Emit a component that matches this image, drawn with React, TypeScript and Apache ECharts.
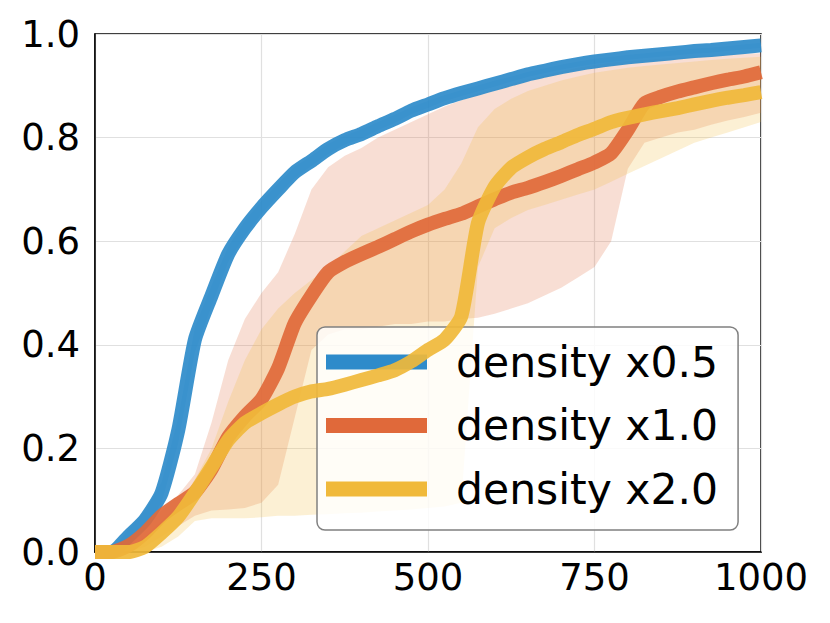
import React, { useEffect, useRef } from "react";
import * as echarts from "echarts";

const steps = [0,25,50,75,100,125,150,175,200,225,250,275,300,325,350,375,400,425,450,475,500,525,550,575,600,625,650,675,700,725,750,775,800,825,850,875,900,925,950,975,1000];

const blueMean = [0,0,0.03,0.062,0.114,0.235,0.41,0.495,0.575,0.625,0.665,0.7,0.733,0.755,0.778,0.795,0.807,0.822,0.836,0.852,0.864,0.876,0.886,0.895,0.904,0.913,0.922,0.929,0.936,0.942,0.947,0.951,0.955,0.958,0.961,0.964,0.967,0.969,0.972,0.975,0.978];
const blueLo = [0,0,0.015,0.045,0.095,0.21,0.385,0.475,0.56,0.61,0.652,0.688,0.722,0.745,0.768,0.786,0.798,0.814,0.828,0.845,0.857,0.87,0.88,0.889,0.898,0.908,0.917,0.924,0.931,0.937,0.942,0.946,0.95,0.953,0.956,0.959,0.962,0.964,0.967,0.97,0.973];
const blueHi = [0,0,0.045,0.08,0.135,0.26,0.435,0.515,0.59,0.64,0.678,0.712,0.744,0.765,0.788,0.804,0.816,0.83,0.844,0.859,0.871,0.882,0.892,0.901,0.91,0.918,0.927,0.934,0.941,0.947,0.952,0.956,0.96,0.963,0.966,0.969,0.972,0.974,0.977,0.98,0.983];

const orangeMean = [0,0,0.012,0.037,0.07,0.093,0.115,0.16,0.222,0.262,0.295,0.355,0.442,0.495,0.54,0.56,0.575,0.589,0.604,0.619,0.632,0.643,0.653,0.667,0.681,0.694,0.703,0.714,0.726,0.739,0.752,0.77,0.815,0.866,0.879,0.889,0.897,0.905,0.912,0.918,0.926];
const orangeLo = [0,0,0,0.01,0.03,0.05,0.07,0.08,0.082,0.085,0.095,0.13,0.26,0.39,0.42,0.43,0.43,0.435,0.44,0.44,0.445,0.445,0.45,0.452,0.46,0.47,0.48,0.495,0.51,0.53,0.55,0.6,0.74,0.79,0.8,0.81,0.815,0.825,0.833,0.84,0.848];
const orangeHi = [0,0,0.02,0.05,0.08,0.11,0.15,0.25,0.37,0.45,0.5,0.54,0.614,0.7,0.743,0.765,0.78,0.8,0.815,0.83,0.845,0.86,0.872,0.885,0.893,0.903,0.912,0.92,0.928,0.935,0.94,0.945,0.948,0.95,0.952,0.954,0.956,0.958,0.96,0.962,0.963];

const yellowMean = [0,0,0,0.01,0.037,0.068,0.114,0.164,0.216,0.249,0.268,0.285,0.3,0.31,0.315,0.323,0.332,0.341,0.351,0.368,0.39,0.41,0.455,0.635,0.705,0.742,0.762,0.778,0.791,0.805,0.817,0.83,0.838,0.845,0.851,0.857,0.864,0.871,0.877,0.882,0.888];
const yellowLo = [0,0,0,0,0.01,0.03,0.06,0.065,0.065,0.065,0.067,0.07,0.07,0.072,0.073,0.075,0.076,0.078,0.08,0.082,0.085,0.088,0.095,0.55,0.625,0.645,0.66,0.67,0.68,0.69,0.7,0.715,0.73,0.745,0.76,0.775,0.79,0.8,0.81,0.82,0.83];
const yellowHi = [0,0,0.005,0.03,0.06,0.09,0.14,0.2,0.29,0.37,0.43,0.47,0.5,0.525,0.55,0.58,0.61,0.625,0.64,0.655,0.67,0.7,0.75,0.82,0.855,0.875,0.89,0.9,0.91,0.918,0.925,0.93,0.935,0.938,0.941,0.944,0.947,0.95,0.952,0.954,0.956];

const names = ["density x0.5", "density x1.0", "density x2.0"];
const colors = ["#2E8BCA", "#E0693A", "#F0B93A"];
const xTicks = [0, 250, 500, 750, 1000];
const yTicks = [0, 0.2, 0.4, 0.6, 0.8, 1.0];

const FONT = "DejaVu Sans";

export default function App() {
  const ref = useRef<HTMLDivElement>(null);
  useEffect(() => {
    if (!ref.current) return;
    const chart = echarts.init(ref.current, null, { renderer: "svg" });
    const groups = [
      { mean: blueMean, lo: blueLo, hi: blueHi, bandOpacity: 0.25 },
      { mean: orangeMean, lo: orangeLo, hi: orangeHi, bandOpacity: 0.22 },
      { mean: yellowMean, lo: yellowLo, hi: yellowHi, bandOpacity: 0.22 },
    ];
    const series: any[] = [];
    groups.forEach((g, i) => {
      series.push({
        type: "custom",
        name: "band" + i,
        data: steps.map((x, k) => [x, g.lo[k], g.hi[k]]),
        encode: { x: 0, y: [1, 2] },
        silent: true,
        clip: true,
        z: 1,
        renderItem: (params: any, api: any) => {
          if (params.dataIndex !== 0) return null;
          const top = steps.map((x, k) => api.coord([x, g.hi[k]]));
          const bottom = steps.map((x, k) => api.coord([x, g.lo[k]])).reverse();
          return {
            type: "polygon",
            shape: { points: top.concat(bottom) },
            style: { fill: colors[i], opacity: g.bandOpacity },
          };
        },
      });
    });
    groups.forEach((g, i) => {
      series.push({
        type: "line",
        name: names[i],
        data: steps.map((x, k) => [x, g.mean[k]]),
        symbol: "none",
        smooth: 0.2,
        lineStyle: { color: colors[i], width: 14, opacity: 0.92, cap: "butt", join: "round" },
        itemStyle: { color: colors[i] },
        z: 3 + i,
      });
    });

    chart.setOption({
      animation: false,
      grid: {
        left: 95,
        top: 34,
        right: 69,
        bottom: 71,
        show: true,
        borderColor: "#000",
        borderWidth: 1.5,
        backgroundColor: "transparent",
      },
      xAxis: {
        type: "value",
        min: 0,
        max: 1000,
        interval: 250,
        axisLine: { show: true, lineStyle: { color: "#000", width: 1.5 } },
        axisTick: { show: false },
        splitLine: { show: true, lineStyle: { color: "#e0e0e0", width: 1.2 } },
        axisLabel: {
          color: "#000",
          fontFamily: FONT,
          fontSize: 37,
          margin: 7,
          formatter: (v: number) => (xTicks.includes(v) ? String(v) : ""),
        },
      },
      yAxis: {
        type: "value",
        min: 0,
        max: 1,
        interval: 0.2,
        axisLine: { show: true, lineStyle: { color: "#000", width: 1.5 } },
        axisTick: { show: false },
        splitLine: { show: true, lineStyle: { color: "#e0e0e0", width: 1.2 } },
        axisLabel: {
          color: "#000",
          fontFamily: FONT,
          fontSize: 37,
          margin: 15,
          formatter: (v: number) => {
            const t = yTicks.find((y) => Math.abs(y - v) < 1e-6);
            return t === undefined ? "" : t.toFixed(1);
          },
        },
      },
      legend: {
        data: names,
        orient: "vertical",
        left: 317,
        top: 327,
        padding: [11, 20, 17, 9],
        itemGap: 15.5,
        itemWidth: 101,
        itemHeight: 15,
        icon: "rect",
        backgroundColor: "rgba(255,255,255,0.82)",
        borderColor: "#808080",
        borderWidth: 1.5,
        borderRadius: 8,
        textStyle: {
          color: "#000",
          fontFamily: FONT,
          fontSize: 42.5,
          lineHeight: 48,
          padding: [0, 0, 0, 24],
        },
        selectedMode: false,
      },
      series,
    });
    return () => chart.dispose();
  }, []);
  return (
    <div
      ref={ref}
      style={{ position: "absolute", left: 0, top: 0, width: 830, height: 623, background: "#fff" }}
    />
  );
}
